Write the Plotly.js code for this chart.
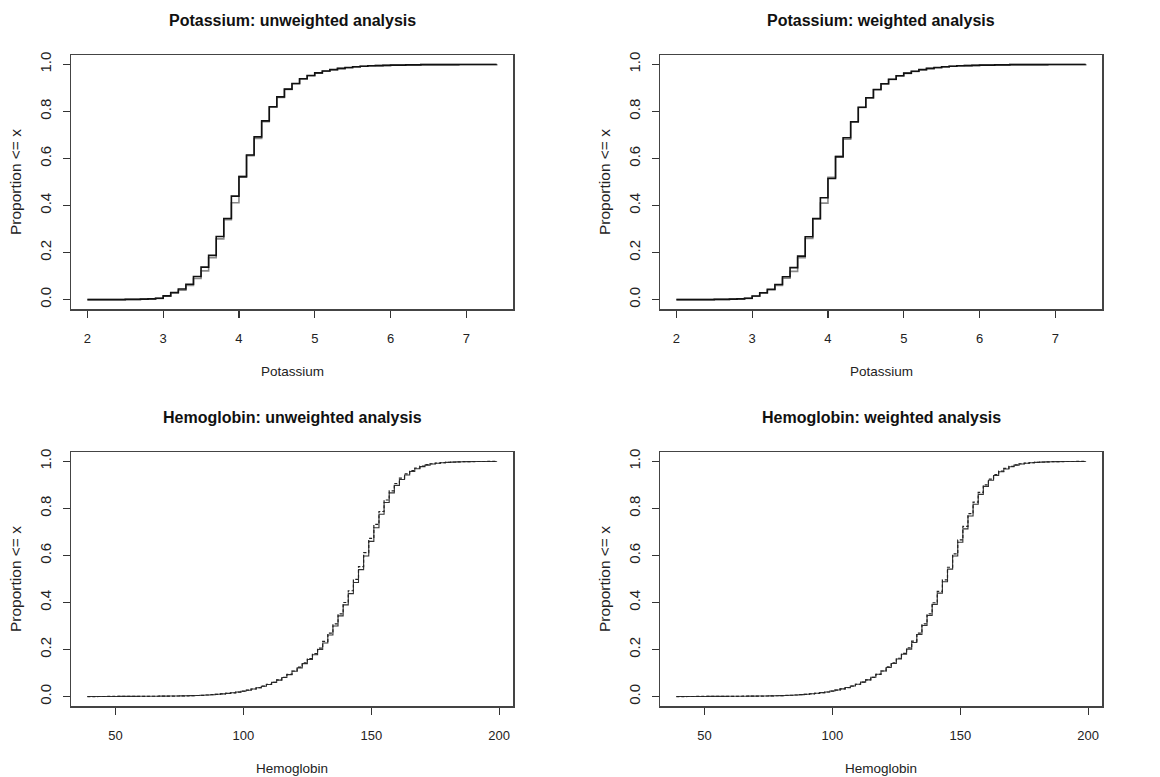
<!DOCTYPE html>
<html>
<head>
<meta charset="utf-8">
<script src="https://cdn.plot.ly/plotly-3.0.1.min.js"></script>
<style>html,body{margin:0;padding:0;background:#fff;}#chart{width:1160px;height:777px;}</style>
</head>
<body>
<div id="chart"></div>
<script>
// ---------- Potassium (step positions and ECDF values) ----------
var kX = [2.0, 2.5, 2.7, 2.8, 2.9, 3.0, 3.1, 3.2, 3.3, 3.4, 3.5, 3.6, 3.7, 3.8, 3.9, 4.0, 4.1, 4.2, 4.3, 4.4, 4.5, 4.6, 4.7, 4.8, 4.9, 5.0, 5.1, 5.2, 5.3, 5.4, 5.5, 5.6, 5.7, 5.8, 5.9, 6.0, 6.2, 6.4, 6.9, 7.4];
var kUnwBlack = [0.000, 0.001, 0.002, 0.003, 0.006, 0.016, 0.030, 0.045, 0.065, 0.098, 0.138, 0.188, 0.268, 0.345, 0.440, 0.522, 0.615, 0.692, 0.760, 0.820, 0.862, 0.895, 0.919, 0.939, 0.953, 0.964, 0.972, 0.978, 0.983, 0.987, 0.990, 0.992, 0.994, 0.995, 0.996, 0.997, 0.998, 0.999, 0.9995, 1.000];
var kUnwGrey  = [0.000, 0.001, 0.002, 0.003, 0.005, 0.014, 0.027, 0.040, 0.060, 0.090, 0.122, 0.178, 0.258, 0.340, 0.412, 0.525, 0.612, 0.685, 0.756, 0.818, 0.860, 0.894, 0.918, 0.938, 0.952, 0.963, 0.971, 0.977, 0.982, 0.986, 0.989, 0.992, 0.993, 0.995, 0.996, 0.997, 0.998, 0.999, 0.9995, 1.000];
var kWtBlack  = [0.000, 0.001, 0.002, 0.003, 0.006, 0.015, 0.029, 0.044, 0.064, 0.097, 0.136, 0.185, 0.267, 0.345, 0.433, 0.515, 0.607, 0.688, 0.756, 0.818, 0.858, 0.893, 0.918, 0.937, 0.952, 0.963, 0.971, 0.978, 0.983, 0.987, 0.990, 0.992, 0.994, 0.995, 0.996, 0.997, 0.998, 0.999, 0.9995, 1.000];
var kWtGrey   = [0.000, 0.001, 0.002, 0.003, 0.005, 0.014, 0.027, 0.041, 0.060, 0.091, 0.120, 0.178, 0.260, 0.342, 0.410, 0.520, 0.610, 0.682, 0.754, 0.817, 0.857, 0.892, 0.917, 0.936, 0.951, 0.962, 0.970, 0.977, 0.982, 0.986, 0.989, 0.992, 0.993, 0.995, 0.996, 0.997, 0.998, 0.999, 0.9995, 1.000];

// ---------- Hemoglobin (step positions and ECDF values) ----------
var hbX = [39, 41, 43, 45, 47, 49, 51, 53, 55, 57, 59, 61, 63, 65, 67, 69, 71, 73, 75, 77, 79, 81, 83, 85, 87, 89, 91, 93, 95, 97, 99, 101, 103, 105, 107, 109, 111, 113, 115, 117, 119,
           121, 123, 125, 127, 129, 131, 133, 135, 137, 139, 141, 143, 145, 147, 149, 151, 153, 155, 157, 159, 161, 163, 165, 167, 169, 171, 173, 175, 177, 179, 181, 183, 185, 187, 189, 191, 193, 195, 197, 199];
var hbUnwSolid = [0.0002, 0.0003, 0.0004, 0.0005, 0.0006, 0.0007, 0.0008, 0.0009, 0.0010, 0.0011, 0.0012, 0.0013, 0.0014, 0.0016, 0.0018, 0.0020, 0.0023, 0.0026, 0.0030, 0.0035, 0.0041, 0.0048, 0.0057, 0.0068, 0.0081, 0.0097, 0.0115, 0.0137, 0.0163, 0.0194, 0.0230, 0.0272, 0.0321, 0.0377, 0.0442, 0.0517, 0.0603, 0.0700, 0.0810, 0.0935, 0.1075,
                  0.122, 0.140, 0.158, 0.178, 0.200, 0.228, 0.262, 0.300, 0.343, 0.390, 0.438, 0.485, 0.540, 0.598, 0.660, 0.718, 0.775, 0.825, 0.866, 0.898, 0.923, 0.942, 0.957, 0.969, 0.978, 0.984, 0.989, 0.992, 0.994, 0.996, 0.997, 0.998, 0.9985, 0.999, 0.9993, 0.9995, 0.9997, 0.9998, 0.9999, 1.0];
var hbUnwDash  = [0.0001, 0.0002, 0.0003, 0.0004, 0.0005, 0.0006, 0.0007, 0.0008, 0.0009, 0.0010, 0.0011, 0.0012, 0.0014, 0.0015, 0.0017, 0.0019, 0.0022, 0.0025, 0.0029, 0.0034, 0.0040, 0.0047, 0.0056, 0.0067, 0.0080, 0.0096, 0.0114, 0.0136, 0.0162, 0.0193, 0.0230, 0.0273, 0.0323, 0.0380, 0.0446, 0.0522, 0.0609, 0.0707, 0.0819, 0.0946, 0.1088,
                  0.125, 0.143, 0.162, 0.183, 0.206, 0.235, 0.270, 0.309, 0.352, 0.400, 0.450, 0.498, 0.553, 0.612, 0.673, 0.732, 0.787, 0.836, 0.875, 0.906, 0.929, 0.947, 0.961, 0.972, 0.980, 0.986, 0.990, 0.993, 0.995, 0.9965, 0.9975, 0.9983, 0.9988, 0.9992, 0.9994, 0.9996, 0.9997, 0.9998, 0.9999, 1.0];
var hbWtSolid  = [0.0002, 0.0003, 0.0004, 0.0005, 0.0006, 0.0007, 0.0008, 0.0009, 0.0010, 0.0011, 0.0012, 0.0013, 0.0015, 0.0017, 0.0019, 0.0021, 0.0024, 0.0027, 0.0031, 0.0036, 0.0042, 0.0049, 0.0058, 0.0069, 0.0083, 0.0099, 0.0118, 0.0140, 0.0167, 0.0198, 0.0235, 0.0278, 0.0328, 0.0385, 0.0451, 0.0527, 0.0614, 0.0712, 0.0823, 0.0948, 0.1090,
                  0.124, 0.141, 0.160, 0.180, 0.202, 0.230, 0.264, 0.302, 0.345, 0.392, 0.440, 0.488, 0.542, 0.598, 0.656, 0.713, 0.768, 0.818, 0.860, 0.894, 0.920, 0.940, 0.956, 0.968, 0.977, 0.984, 0.989, 0.992, 0.994, 0.996, 0.997, 0.998, 0.9985, 0.999, 0.9993, 0.9995, 0.9997, 0.9998, 0.9999, 1.0];
var hbWtDash   = [0.0001, 0.0002, 0.0003, 0.0004, 0.0005, 0.0006, 0.0007, 0.0008, 0.0009, 0.0010, 0.0011, 0.0012, 0.0014, 0.0016, 0.0018, 0.0020, 0.0023, 0.0026, 0.0030, 0.0035, 0.0041, 0.0048, 0.0057, 0.0068, 0.0082, 0.0098, 0.0117, 0.0139, 0.0165, 0.0196, 0.0233, 0.0276, 0.0326, 0.0383, 0.0449, 0.0525, 0.0612, 0.0710, 0.0821, 0.0947, 0.1089,
                  0.126, 0.144, 0.163, 0.184, 0.207, 0.236, 0.270, 0.309, 0.352, 0.399, 0.447, 0.496, 0.550, 0.607, 0.666, 0.724, 0.778, 0.827, 0.868, 0.900, 0.925, 0.944, 0.959, 0.970, 0.979, 0.985, 0.990, 0.993, 0.995, 0.9965, 0.9975, 0.9983, 0.9988, 0.9992, 0.9994, 0.9996, 0.9997, 0.9998, 0.9999, 1.0];

var panelTitles = ["Potassium: unweighted analysis", "Potassium: weighted analysis", "Hemoglobin: unweighted analysis", "Hemoglobin: weighted analysis"];
var xTitles = ["Potassium", "Potassium", "Hemoglobin", "Hemoglobin"];
var yTitle = "Proportion &lt;= x";
var kTicks = [2, 3, 4, 5, 6, 7];
var hbTicks = [50, 100, 150, 200];
var yTicks = [0, 0.2, 0.4, 0.6, 0.8, 1.0];

var W = 1160, H = 777;
var FONT = '"Liberation Sans", Arial, Helvetica, sans-serif';
var TXT = '#222';

function step(x, y, xa, ya, color, width, dash) {
  return {x: x, y: y, xaxis: xa, yaxis: ya, type: 'scatter', mode: 'lines',
          line: {shape: 'hv', color: color, width: width, dash: dash || 'solid'},
          hoverinfo: 'x+y', showlegend: false};
}
var traces = [
  step(kX, kUnwGrey, 'x', 'y', '#8a8a8a', 1.6),
  step(kX, kUnwBlack, 'x', 'y', '#111', 1.6),
  step(kX, kWtGrey, 'x2', 'y2', '#8a8a8a', 1.6),
  step(kX, kWtBlack, 'x2', 'y2', '#111', 1.6),
  step(hbX, hbUnwSolid, 'x3', 'y3', '#333', 1.1),
  step(hbX, hbUnwDash, 'x3', 'y3', '#222', 1.2, '3px,2px'),
  step(hbX, hbWtSolid, 'x4', 'y4', '#333', 1.1),
  step(hbX, hbWtDash, 'x4', 'y4', '#222', 1.2, '3px,2px')
];

// panel pixel boxes: [left, right, top, bottom]
var boxes = [[71, 513, 55, 309], [660, 1102, 55, 309], [71, 513, 452, 706], [660, 1102, 452, 706]];

function xa(i) {
  var b = boxes[i];
  var isK = i < 2;
  return {domain: [b[0] / W, b[1] / W], anchor: i === 0 ? 'y' : 'y' + (i + 1),
          range: isK ? [1.784, 7.616] : [32.6, 205.4],
          tickmode: 'array', tickvals: isK ? kTicks : hbTicks,
          ticks: 'outside', ticklen: 7, tickwidth: 1.2, tickcolor: '#333',
          showline: true, mirror: true, linecolor: '#444', linewidth: 1.5,
          showgrid: false, zeroline: false, ticklabelstandoff: 10,
          tickfont: {family: FONT, size: 13, color: TXT}};
}
function ya(i) {
  var b = boxes[i];
  return {domain: [1 - b[3] / H, 1 - b[2] / H], anchor: i === 0 ? 'x' : 'x' + (i + 1),
          range: [-0.04, 1.04], tickmode: 'array', tickvals: yTicks, tickformat: '.1f',
          tickangle: -90, ticks: 'outside', ticklen: 7, tickwidth: 1.2, tickcolor: '#333',
          showline: true, mirror: true, linecolor: '#444', linewidth: 1.5,
          showgrid: false, zeroline: false, ticklabelstandoff: 6,
          tickfont: {family: FONT, size: 15, color: TXT}};
}

var ann = [];
var titleY = [20, 20, 417, 417];
var xTitleY = [372, 372, 768, 768];
var yTitleX = [15, 604, 15, 604];
for (var i = 0; i < 4; i++) {
  var b = boxes[i];
  var cx = (b[0] + b[1]) / 2;
  ann.push({text: '<b>' + panelTitles[i] + '</b>', xref: 'paper', yref: 'paper', x: cx / W, y: 1 - titleY[i] / H,
            xanchor: 'center', yanchor: 'middle', showarrow: false, font: {family: FONT, size: 16, color: '#111'}});
  ann.push({text: xTitles[i], xref: 'paper', yref: 'paper', x: cx / W, y: 1 - xTitleY[i] / H,
            xanchor: 'center', yanchor: 'middle', showarrow: false, font: {family: FONT, size: 13.5, color: TXT}});
  ann.push({text: yTitle, xref: 'paper', yref: 'paper', x: yTitleX[i] / W, y: 1 - ((b[2] + b[3]) / 2) / H,
            xanchor: 'center', yanchor: 'middle', textangle: -90, showarrow: false, font: {family: FONT, size: 15.5, color: TXT}});
}

var layout = {
  width: W, height: H, margin: {l: 0, r: 0, t: 0, b: 0},
  paper_bgcolor: '#fff', plot_bgcolor: '#fff', showlegend: false,
  xaxis: xa(0), yaxis: ya(0), xaxis2: xa(1), yaxis2: ya(1),
  xaxis3: xa(2), yaxis3: ya(2), xaxis4: xa(3), yaxis4: ya(3),
  annotations: ann
};
Plotly.newPlot('chart', traces, layout, {displayModeBar: false, staticPlot: true});
</script>
</body>
</html>
